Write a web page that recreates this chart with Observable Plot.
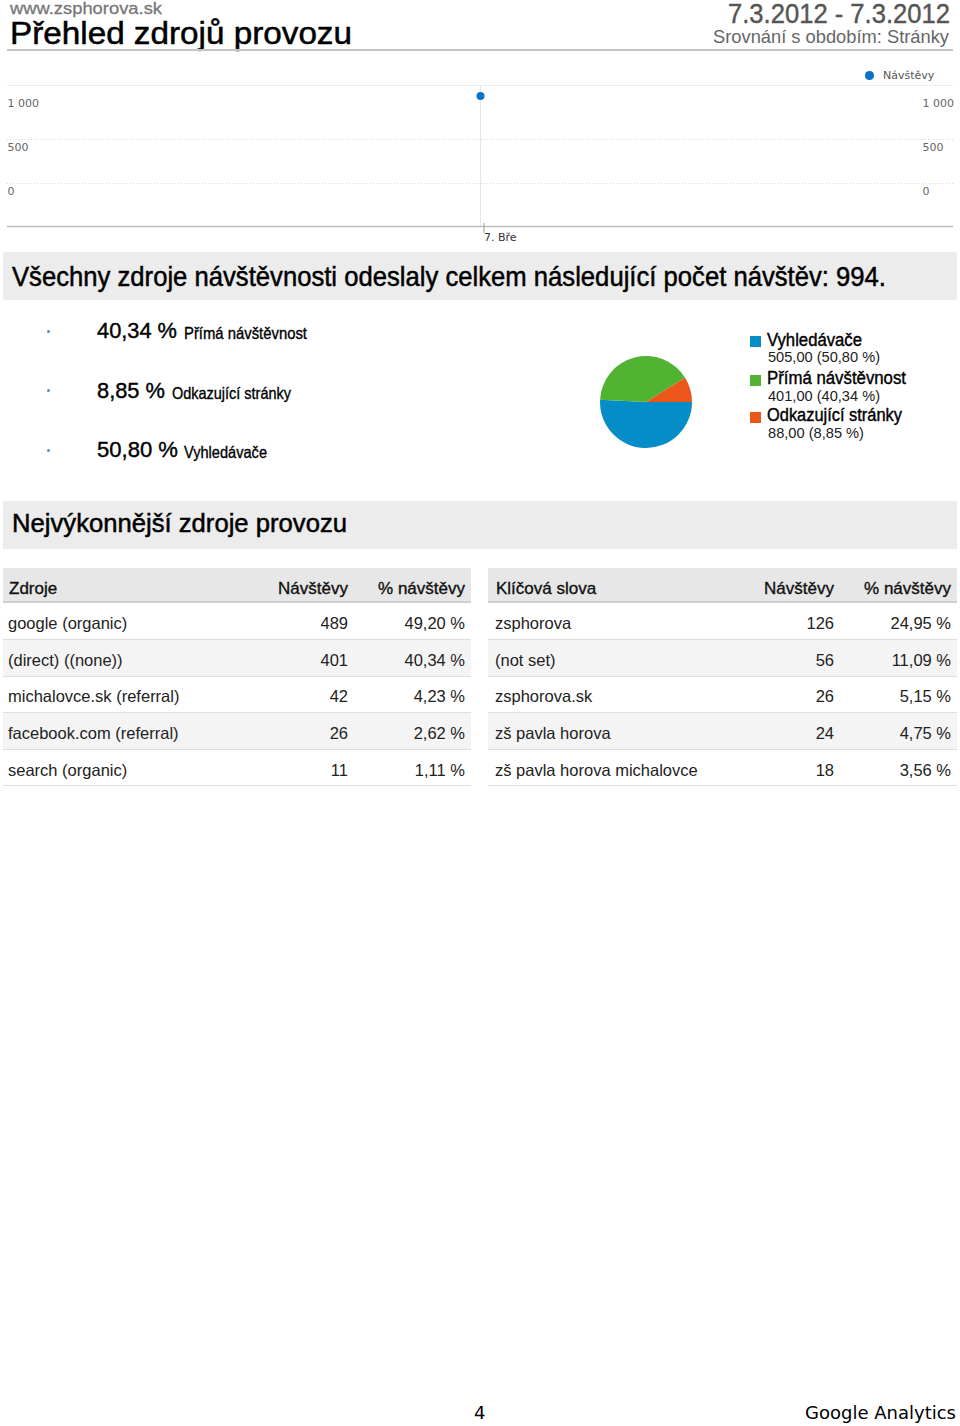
<!DOCTYPE html>
<html><head><meta charset="utf-8">
<script src="https://cdn.jsdelivr.net/npm/d3@7"></script>
<script src="https://cdn.jsdelivr.net/npm/@observablehq/plot@0.6"></script>
<style>
html,body{margin:0;padding:0;background:#fff;}
#page{position:relative;width:960px;height:1426px;overflow:hidden;font-family:"Liberation Sans",Arial,sans-serif;}
.t{position:absolute;white-space:nowrap;line-height:1;}
.box{position:absolute;}
</style></head><body><div id="page"></div>
<script>
// ---------- data ----------
const siteName = "www.zsphorova.sk";
const reportTitle = "Přehled zdrojů provozu";
const dateRange = "7.3.2012 - 7.3.2012";
const compareText = "Srovnání s obdobím: Stránky";
const seriesName = "Návštěvy";
const dayLabels = ["7. Bře"];
const dayVisits = [994];
const yTicks = [0, 500, 1000];
const yGrid = [0, 500];
const yExtent = [-489, 1114];
const seriesColor = "#0b72c9";
const totalText = "Všechny zdroje návštěvnosti odeslaly celkem následující počet návštěv: 994.";
const sourceCats = ["Vyhledávače", "Přímá návštěvnost", "Odkazující stránky"];
const sourceVisits = [505, 401, 88];
const sourcePct = [50.80, 40.34, 8.85];
const sourceColors = ["#058DC7", "#50B432", "#ED561B"];
const bulletOrder = ["Přímá návštěvnost", "Odkazující stránky", "Vyhledávače"];
const topTitle = "Nejvýkonnější zdroje provozu";
const srcHeaders = ["Zdroje", "Návštěvy", "% návštěvy"];
const srcNames = ["google (organic)", "(direct) ((none))", "michalovce.sk (referral)", "facebook.com (referral)", "search (organic)"];
const srcVisits = [489, 401, 42, 26, 11];
const srcPcts = [49.20, 40.34, 4.23, 2.62, 1.11];
const kwHeaders = ["Klíčová slova", "Návštěvy", "% návštěvy"];
const kwNames = ["zsphorova", "(not set)", "zsphorova.sk", "zš pavla horova", "zš pavla horova michalovce"];
const kwVisits = [126, 56, 26, 24, 18];
const kwPcts = [24.95, 11.09, 5.15, 4.75, 3.56];
const pageNo = "4";
const footerBrand = "Google Analytics";

// ---------- helpers ----------
const page = document.getElementById("page");
const SANS = '"Liberation Sans", Arial, sans-serif';
const DEJAVU = '"DejaVu Sans", sans-serif';
const czPct = v => v.toFixed(2).replace(".", ",") + " %";
const czNum = v => v.toFixed(2).replace(".", ",");
const loc = d3.formatLocale({decimal: ",", thousands: " ", grouping: [3], currency: ["", ""]});
const fmtThousands = loc.format(",");

function T(str, o) {
  const s = document.createElement("div");
  s.className = "t";
  s.textContent = str;
  s.style.fontSize = o.size + "px";
  s.style.fontFamily = o.family || SANS;
  s.style.color = o.color || "#000";
  if (o.weight) s.style.fontWeight = o.weight;
  if (o.stroke) s.style.webkitTextStroke = o.stroke + "px " + (o.color || "#000");
  s.style.top = (o.y - 0.85 * o.size) + "px";
  s.style.left = "0px";
  page.appendChild(s);
  const w = s.getBoundingClientRect().width;
  const sx = o.w ? o.w / w : 1;
  s.style.left = (o.anchor === "end" ? o.x - w * sx : o.x) + "px";
  if (sx !== 1) { s.style.transformOrigin = "0 0"; s.style.transform = `scaleX(${sx})`; }
  return s;
}
function B(x, y, w, h, bg, extra) {
  const d = document.createElement("div");
  d.className = "box";
  Object.assign(d.style, {left: x + "px", top: y + "px", width: w + "px", height: h + "px", background: bg}, extra || {});
  page.appendChild(d);
  return d;
}

// ---------- header ----------
T(siteName, {x: 10, y: 14, size: 17, color: "#777", w: 152, stroke: 0.3});
T(reportTitle, {x: 10, y: 44.5, size: 31, color: "#000", w: 342, stroke: 0.5});
T(dateRange, {x: 950, y: 23.5, size: 27, color: "#555", anchor: "end", w: 222, stroke: 0.4});
T(compareText, {x: 949, y: 44, size: 18.5, color: "#666", anchor: "end", w: 236});
B(7, 49, 946, 2, "#c4c4c4");

// ---------- line chart ----------
const visitData = dayLabels.map((d, i) => ({day: d, visits: dayVisits[i]}));
const lineChart = Plot.plot({
  width: 960, height: 190,
  marginLeft: 7, marginRight: 7, marginTop: 25, marginBottom: 24,
  style: {fontFamily: "DejaVu Sans", fontSize: "11px", color: "#333", background: "transparent", overflow: "visible"},
  x: {type: "point", domain: dayLabels, label: null},
  y: {domain: yExtent, axis: null, label: null},
  marks: [
    Plot.ruleY([yExtent[1]], {stroke: "#ebebeb"}),
    Plot.ruleY(yGrid, {stroke: "#d8d8d8", strokeDasharray: "1,2"}),
    Plot.ruleX(dayLabels, {x: d => d, stroke: "#e6e6e6"}),
    Plot.ruleY([yExtent[0]], {stroke: "#bdbdbd", strokeWidth: 1.5}),
    Plot.axisX({label: null, tickSize: 10, tickPadding: 0, textAnchor: "start", dx: 3.5, dy: -3, stroke: "#999", fill: "#333", fontSize: 11}),
    Plot.text(yTicks, {y: d => d, text: d => fmtThousands(d), frameAnchor: "left", textAnchor: "start", dx: 0, dy: 8, fill: "#666", fontSize: 11}),
    Plot.text(yTicks, {y: d => d, text: d => fmtThousands(d), frameAnchor: "right", textAnchor: "start", dx: -31, dy: 8, fill: "#666", fontSize: 11}),
    Plot.dot(visitData, {x: "day", y: "visits", r: 4, fill: seriesColor})
  ]
});
lineChart.style.position = "absolute";
lineChart.style.left = "0px";
lineChart.style.top = "60px";
page.appendChild(lineChart);
// legend
B(865, 71, 8.5, 8.5, seriesColor, {borderRadius: "50%"});
T(seriesName, {x: 883, y: 79, size: 11, family: DEJAVU, color: "#555"});

// ---------- total band ----------
B(3, 252, 954, 48, "#ececec");
T(totalText, {x: 12, y: 287, size: 28, color: "#000", w: 874, stroke: 0.5});

// ---------- bullets ----------
const bulletY = [339.5, 399, 458.5];
const bulletLabelX = [184, 172, 184];
const bulletLabelW = [123, 119, 83];
const bulletPctW = [80, 68, 81];
bulletOrder.forEach((cat, i) => {
  const k = sourceCats.indexOf(cat);
  B(46.5, bulletY[i] - 10, 3.2, 3.2, "#5a8cc2", {borderRadius: "50%"});
  T(czPct(sourcePct[k]), {x: 97, y: bulletY[i], size: 22.5, color: "#000", w: bulletPctW[i], stroke: 0.4});
  T(cat, {x: bulletLabelX[i], y: bulletY[i], size: 16.5, color: "#000", w: bulletLabelW[i], stroke: 0.35});
});

// ---------- pie ----------
const colorScale = Plot.scale({color: {type: "ordinal", domain: sourceCats, range: sourceColors}});
const pieData = sourceCats.map((c, i) => ({cat: c, value: sourceVisits[i]}));
const pieArcs = d3.pie().value(d => d.value).sort(null)
  .startAngle(Math.PI / 2).endAngle(Math.PI / 2 + 2 * Math.PI)(pieData);
const pieChart = Plot.plot({
  width: 100, height: 100, margin: 0,
  style: {background: "transparent", overflow: "visible"},
  marks: [
    (index, scales, values, dimensions) => {
      const W = dimensions ? dimensions.width : 100, H = dimensions ? dimensions.height : 100;
      const r = Math.min(W, H) / 2 - 4;
      const arc = d3.arc().innerRadius(0).outerRadius(r);
      const g = d3.create("svg:g").attr("transform", `translate(${W / 2},${H / 2})`);
      g.selectAll("path").data(pieArcs).join("path")
        .attr("d", arc)
        .attr("fill", d => colorScale.apply(d.data.cat));
      return g.node();
    }
  ]
});
pieChart.style.position = "absolute";
pieChart.style.left = "596px";
pieChart.style.top = "351.5px";
page.appendChild(pieChart);

// pie legend
const legSquareTop = [336, 374.5, 412];
const legLabelY = [346.7, 384.3, 421.7];
const legValueY = [362.7, 401, 438.3];
const legLabelW = [95, 139, 135];
const legValueW = [112, 112, 96];
sourceCats.forEach((cat, i) => {
  B(750, legSquareTop[i], 11, 11, colorScale.apply(cat));
  T(cat, {x: 767, y: legLabelY[i], size: 18, color: "#000", w: legLabelW[i], stroke: 0.4});
  T(czNum(sourceVisits[i]) + " (" + czPct(sourcePct[i]) + ")", {x: 768, y: legValueY[i], size: 14.5, color: "#222", w: legValueW[i]});
});

// ---------- top sources band ----------
B(3, 501, 954, 48, "#ececec");
T(topTitle, {x: 12, y: 532.5, size: 26, color: "#000", w: 335, stroke: 0.5});

// ---------- tables ----------
function table(x0, x1, nameX, visX, pctX, headers, names, visits, pcts) {
  B(x0, 568, x1 - x0, 33, "#e7e7e7");
  B(x0, 601, x1 - x0, 2, "#d0d0d0");
  T(headers[0], {x: nameX + 1, y: 594.5, size: 17, color: "#111", stroke: 0.35});
  T(headers[1], {x: visX, y: 594.5, size: 17, color: "#111", anchor: "end", stroke: 0.35});
  T(headers[2], {x: pctX, y: 594.5, size: 17, color: "#111", anchor: "end", stroke: 0.35});
  names.forEach((n, i) => {
    const top = 603 + i * 36.6;
    if (i % 2 === 1) B(x0, top, x1 - x0, 36.6, "#f4f4f4");
    B(x0, top + 36, x1 - x0, 1, "#dedede");
    const by = top + 26.3;
    T(n, {x: nameX, y: by, size: 16.5, color: "#222"});
    T(String(visits[i]), {x: visX, y: by, size: 16.5, color: "#222", anchor: "end"});
    T(czPct(pcts[i]), {x: pctX, y: by, size: 16.5, color: "#222", anchor: "end"});
  });
}
table(3, 471, 8, 348, 465, srcHeaders, srcNames, srcVisits, srcPcts);
table(488, 957, 495, 834, 951, kwHeaders, kwNames, kwVisits, kwPcts);

// ---------- footer ----------
T(pageNo, {x: 474, y: 1419.5, size: 18, family: DEJAVU, color: "#000"});
T(footerBrand, {x: 956, y: 1419.5, size: 18, family: DEJAVU, color: "#000", anchor: "end"});
</script>
</body></html>
